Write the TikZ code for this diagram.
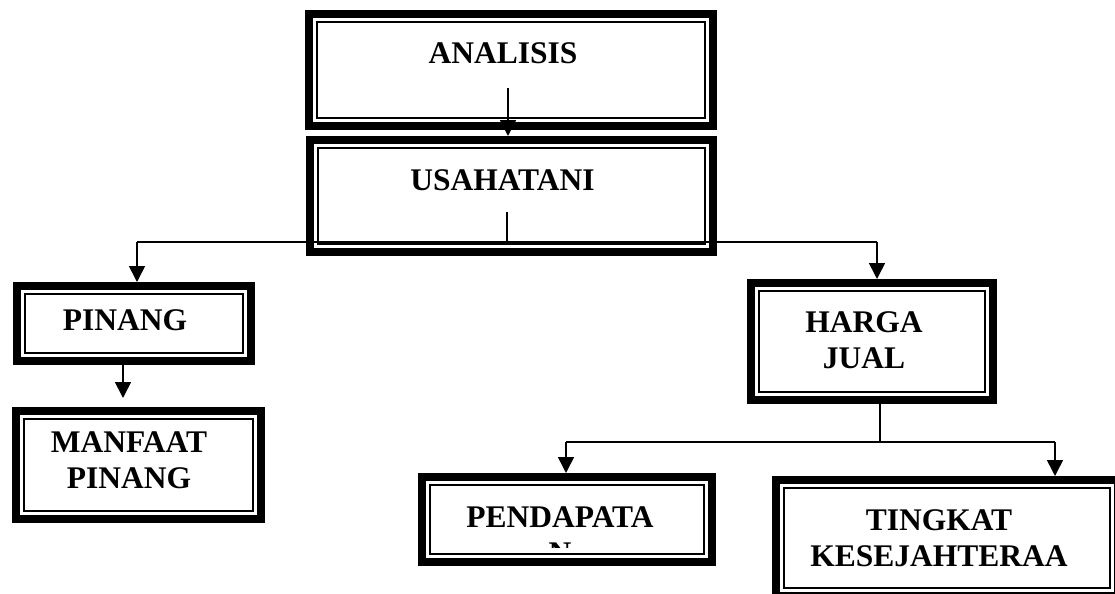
\documentclass[tikz,border=0pt]{standalone}
\usepackage{fontspec}
\setmainfont{Liberation Serif}
\usetikzlibrary{arrows.meta, calc}

\begin{document}
\begin{tikzpicture}[x=0.5pt, y=-0.5pt,
  kotak/.style={draw, line width=4pt, inner sep=0pt,
    path picture={\draw[line width=1pt]
      ([shift={(3.9pt,3.9pt)}]path picture bounding box.south west) rectangle
      ([shift={(-3.9pt,-3.9pt)}]path picture bounding box.north east);}},
  teks/.style={anchor=base, align=center, font=\fontsize{15.75}{18}\selectfont\bfseries},
  garis/.style={line width=0.8pt},
  panah/.style={garis, -{Triangle[length=8pt,width=8pt]}}]
\clip (0,0) rectangle (1115,594);

% Top boxes
\node[kotak, minimum width=202pt, minimum height=56pt] (analisis) at (511,70) {};
\node[kotak, minimum width=201.5pt, minimum height=56pt] (usahatani) at (511.5,196) {};
\node[teks] (tAnalisis) at (503,63) {ANALISIS};
\node[teks] (tUsahatani) at (502.5,190) {USAHATANI};

% Left branch (base = last line)
\node[kotak, minimum width=117pt, minimum height=37.5pt] (pinang) at (134,323.5) {};
\node[kotak, minimum width=122.5pt, minimum height=54pt] (manfaat) at (138.5,465) {};
\node[teks] (tPinang) at (125,330) {PINANG};
\node[teks] (tManfaat) at (129,488) {MANFAAT\\PINANG};

% Right branch
\node[kotak, minimum width=121pt, minimum height=58.5pt] (harga) at (872,341.5) {};
\node[kotak, minimum width=145pt, minimum height=42.5pt] (pendapatan) at (567,519.5) {};
\node[kotak, minimum width=171pt, minimum height=58pt] (tingkat) at (947,538) {};
\node[teks] (tHarga) at (864,368) {HARGA\\JUAL};
\begin{scope}
\clip (418,473) rectangle (716,547);
\node[teks] (tPendapatan) at (560,563) {PENDAPATA\\N};
\end{scope}
\node[teks] (tTingkat) at (939,566) {TINGKAT\\KESEJAHTERAA};

% Connectors
\coordinate (a1) at (508,88);
\draw[panah] (a1) -- (a1 |- usahatani.north);
\coordinate (u1) at (507,212);
\coordinate (u2) at (507,242);
\coordinate (kiri) at (137,242);
\coordinate (kanan) at (877,242);
\draw[garis] (u1) -- (u2);
\draw[garis] (kiri) -- (kanan);
\draw[panah] (kiri) -- (kiri |- pinang.north);
\draw[panah] (kanan) -- (kanan |- harga.north);
\coordinate (p1) at ([xshift=-5.5pt]pinang.south);
\draw[panah, shorten >=4.5pt] (p1) -- (p1 |- manfaat.north);

\coordinate (h2) at (880,442);
\coordinate (kiri2) at (566,442);
\coordinate (kanan2) at (1055,442);
\draw[garis] (h2 |- harga.south) -- (h2);
\draw[garis] (kiri2) -- (kanan2);
\draw[panah] (kiri2) -- (kiri2 |- pendapatan.north);
\draw[panah] (kanan2) -- (kanan2 |- tingkat.north);
\end{tikzpicture}
\end{document}
